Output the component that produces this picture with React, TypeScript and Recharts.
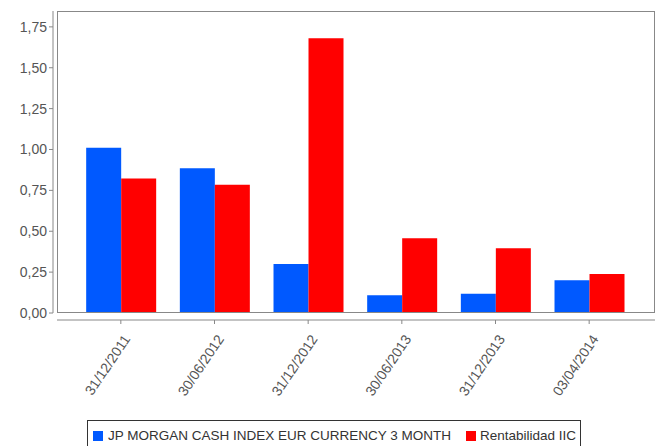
import React from 'react';
import { BarChart, Bar, XAxis, YAxis, Legend } from 'recharts';

const fechas = ['31/12/2011', '30/06/2012', '31/12/2012', '30/06/2013', '31/12/2013', '03/04/2014'];
const jpMorgan = [1.01, 0.885, 0.3, 0.108, 0.118, 0.2];
const rentabilidad = [0.823, 0.785, 1.68, 0.457, 0.396, 0.238];
const yTicks = [0, 0.25, 0.5, 0.75, 1, 1.25, 1.5, 1.75];

const SERIE_A = 'JP MORGAN CASH INDEX EUR CURRENCY 3 MONTH';
const SERIE_B = 'Rentabilidad IIC';
const AZUL = '#0059ff';
const ROJO = '#ff0000';

const data = fechas.map((fecha, i) => ({
  fecha,
  jp: jpMorgan[i],
  rent: rentabilidad[i],
}));

const W = 662;
const H = 446;
const LEFT = 57;
const TOP = 11;
const RIGHT = 7;
const PLOT_BOTTOM = 313;
const LEGEND_TOP = 420;
const LEGEND_H = 40;

const fmt = (v: number) => v.toFixed(2).replace('.', ',');

// etiqueta girada, el final del texto queda junto a la marca
const XTick = ({ x, y, payload }: any) => (
  <g transform={`translate(${x + 10},${y + 20}) rotate(-56)`}>
    <text x={0} y={0} textAnchor="end" fill="#555" fontSize={14}>
      {payload.value}
    </text>
  </g>
);

const LegendBox = () => (
  <div
    style={{
      display: 'flex',
      height: LEGEND_H,
      boxSizing: 'border-box',
      border: '1px solid #333',
      padding: '7px 4px 0 5px',
      fontSize: 13.5,
      lineHeight: '16px',
      color: '#333',
      whiteSpace: 'nowrap',
    }}
  >
    <div style={{ display: 'flex', alignItems: 'center', alignSelf: 'flex-start' }}>
      <span style={{ width: 10, height: 10, background: AZUL, marginRight: 5 }} />
      <span style={{ marginRight: 15 }}>{SERIE_A}</span>
      <span style={{ width: 10, height: 10, background: ROJO, marginRight: 4 }} />
      <span>{SERIE_B}</span>
    </div>
  </div>
);

export default function App() {
  return (
    <div style={{ position: 'relative', width: W, height: H, fontFamily: '"Liberation Sans", Arial, sans-serif' }}>
      <style>{`
        body { margin: 0; }
        .eje-y { transform: translateX(-4px); }
        .eje-x { transform: translateY(7px); }
      `}</style>
      <BarChart
        width={W}
        height={H}
        data={data}
        margin={{ top: TOP, right: RIGHT, left: 0, bottom: 0 }}
        barCategoryGap="13%"
        barGap={0}
      >
        <XAxis
          dataKey="fecha"
          className="eje-x"
          height={H - PLOT_BOTTOM - LEGEND_H}
          padding={{ left: 17, right: 19 }}
          stroke="#888"
          tickSize={4}
          tick={<XTick />}
          interval={0}
        />
        <YAxis
          className="eje-y"
          width={LEFT}
          domain={[0, 1.847]}
          ticks={yTicks}
          tickFormatter={fmt}
          stroke="#888"
          tickSize={4}
          tickMargin={6}
          tick={{ fill: '#555', fontSize: 14 }}
        />
        <Legend
          verticalAlign="bottom"
          content={<LegendBox />}
          wrapperStyle={{ top: LEGEND_TOP, left: 87, width: 'auto' }}
        />
        <Bar dataKey="jp" name={SERIE_A} fill={AZUL} isAnimationActive={false} />
        <Bar dataKey="rent" name={SERIE_B} fill={ROJO} isAnimationActive={false} />
      </BarChart>
      <div
        style={{
          position: 'absolute',
          left: LEFT,
          top: TOP,
          width: W - LEFT - RIGHT,
          height: PLOT_BOTTOM - TOP,
          boxSizing: 'border-box',
          border: '1px solid #888',
          pointerEvents: 'none',
        }}
      />
    </div>
  );
}
